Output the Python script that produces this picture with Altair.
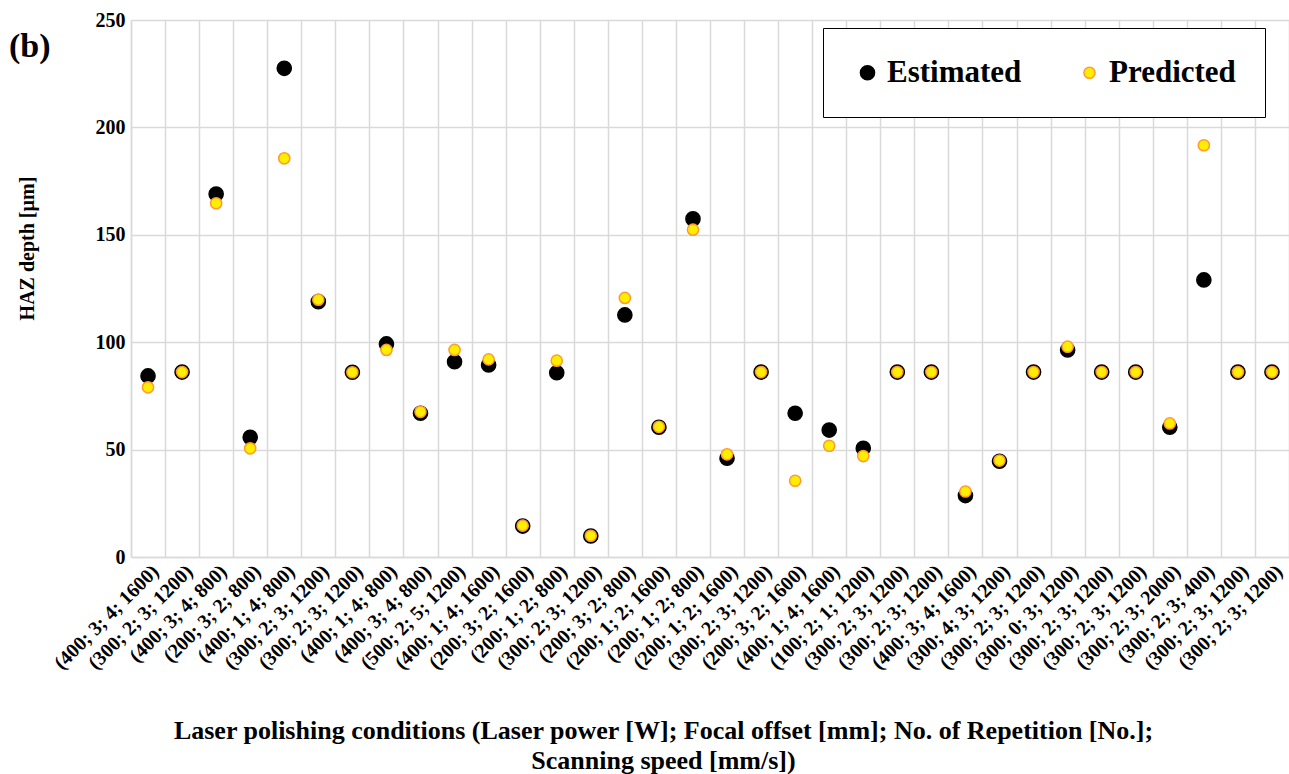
import json
import altair as alt
import pandas as pd

# Polishing conditions: (laser power W; focal offset mm; repetitions; scanning speed mm/s)
conditions = [
    "(400; 3; 4; 1600)", "(300; 2; 3; 1200)", "(400; 3; 4; 800)", "(200; 3; 2; 800)",
    "(400; 1; 4; 800)", "(300; 2; 3; 1200)", "(300; 2; 3; 1200)", "(400; 1; 4; 800)",
    "(400; 3; 4; 800)", "(500; 2; 5; 1200)", "(400; 1; 4; 1600)", "(200; 3; 2; 1600)",
    "(200; 1; 2; 800)", "(300; 2; 3; 1200)", "(200; 3; 2; 800)", "(200; 1; 2; 1600)",
    "(200; 1; 2; 800)", "(200; 1; 2; 1600)", "(300; 2; 3; 1200)", "(200; 3; 2; 1600)",
    "(400; 1; 4; 1600)", "(100; 2; 1; 1200)", "(300; 2; 3; 1200)", "(300; 2; 3; 1200)",
    "(400; 3; 4; 1600)", "(300; 4; 3; 1200)", "(300; 2; 3; 1200)", "(300; 0; 3; 1200)",
    "(300; 2; 3; 1200)", "(300; 2; 3; 1200)", "(300; 2; 3; 2000)", "(300; 2; 3; 400)",
    "(300; 2; 3; 1200)", "(300; 2; 3; 1200)",
]

# HAZ depth in micrometres
estimated = [
    84.3, 86.1, 169.0, 55.7, 227.5, 118.9, 86.0, 99.2, 66.9, 90.9, 89.4, 14.4,
    85.8, 9.8, 112.7, 60.4, 157.4, 46.0, 86.1, 66.9, 59.1, 50.6, 86.1, 86.1,
    28.6, 44.6, 86.1, 96.4, 86.1, 86.1, 60.4, 129.0, 86.1, 86.1,
]
predicted = [
    79.0, 86.1, 164.7, 50.6, 185.6, 119.8, 86.0, 96.4, 67.6, 96.4, 92.0, 14.6,
    91.4, 9.9, 120.6, 60.6, 152.4, 47.8, 86.1, 35.5, 51.8, 47.0, 86.1, 86.1,
    30.5, 44.9, 86.1, 97.9, 86.1, 86.1, 62.2, 191.7, 86.1, 86.1,
]

series = ["Estimated", "Predicted"]

rows = []
for name, vals in zip(series, [estimated, predicted]):
    for i, v in enumerate(vals):
        rows.append({"idx": i, "series": name, "depth": v})
df = pd.DataFrame(rows)

FONT = "Liberation Serif"
label_expr = json.dumps(conditions) + "[datum.value]"

points = alt.Chart(df).mark_point(filled=True, opacity=1, strokeWidth=1.5).encode(
    x=alt.X(
        "idx:O",
        scale=alt.Scale(paddingInner=0, paddingOuter=0),
        axis=alt.Axis(
            labelExpr=label_expr,
            labelAngle=315,
            labelFont=FONT,
            labelFontWeight="bold",
            labelFontSize=20,
            labelColor="black",
            labelPadding=4,
            labelOverlap=False,
            ticks=False,
            tickBand="extent",
            grid=True,
            gridColor="#d9d9d9",
            gridWidth=1.5,
            domainColor="#d9d9d9",
            domainWidth=1.5,
            title=[
                "Laser polishing conditions (Laser power [W]; Focal offset [mm]; No. of Repetition [No.];",
                "Scanning speed [mm/s])",
            ],
            titleFont=FONT,
            titleFontWeight="bold",
            titleFontSize=26,
            titleColor="black",
            titleX=532,
            titleY=181,
            titleAlign="center",
            titleBaseline="alphabetic",
            titleLineHeight=30,
        ),
    ),
    y=alt.Y(
        "depth:Q",
        scale=alt.Scale(domain=[0, 250], nice=False),
        axis=alt.Axis(
            values=[0, 50, 100, 150, 200, 250],
            labelFont=FONT,
            labelFontWeight="bold",
            labelFontSize=20,
            labelColor="black",
            labelPadding=6,
            ticks=False,
            grid=True,
            gridColor="#d9d9d9",
            gridWidth=1.5,
            domainColor="#d9d9d9",
            domainWidth=1.5,
            title="HAZ depth [µm]",
            titleFont=FONT,
            titleFontWeight="bold",
            titleFontSize=20,
            titleColor="black",
            titleAngle=270,
            titleX=-104,
            titleY=228,
            titleAlign="center",
            titleBaseline="middle",
        ),
    ),
    fill=alt.Fill(
        "series:N",
        scale=alt.Scale(domain=series, range=["#000000", "#ffee00"]),
        legend=alt.Legend(
            title=None,
            orient="none",
            legendX=692,
            legendY=8,
            direction="horizontal",
            columns=2,
            columnPadding=52,
            padding=29,
            strokeColor="black",
            labelFont=FONT,
            labelFontWeight="bold",
            labelFontSize=31,
            labelColor="black",
            labelOffset=4,
            symbolType="circle",
            symbolStrokeWidth=1.5,
            fillColor="white",
        ),
    ),
    stroke=alt.Stroke(
        "series:N",
        scale=alt.Scale(domain=series, range=["#000000", "#ff9a2e"]),
    ),
    size=alt.Size(
        "series:N",
        scale=alt.Scale(domain=series, range=[200, 125]),
    ),
    shape=alt.Shape(
        "series:N",
        scale=alt.Scale(domain=series, range=["circle", "circle"]),
    ),
)

panel_tag = alt.Chart(pd.DataFrame({"t": ["(b)"]})).mark_text(
    font=FONT, fontWeight="bold", fontSize=34, color="black", align="left", baseline="alphabetic"
).encode(text="t:N", x=alt.value(-122), y=alt.value(37))

chart = (
    alt.layer(points, panel_tag)
    .properties(
        width=1158,
        height=537,
        autosize=alt.AutoSizeParams(type="none"),
        padding={"left": 131, "top": 20, "right": 0, "bottom": 217},
        background="white",
    )
    .configure_view(stroke=None)
)

chart.save("out.html", embed_options={"renderer": "svg", "actions": False})
